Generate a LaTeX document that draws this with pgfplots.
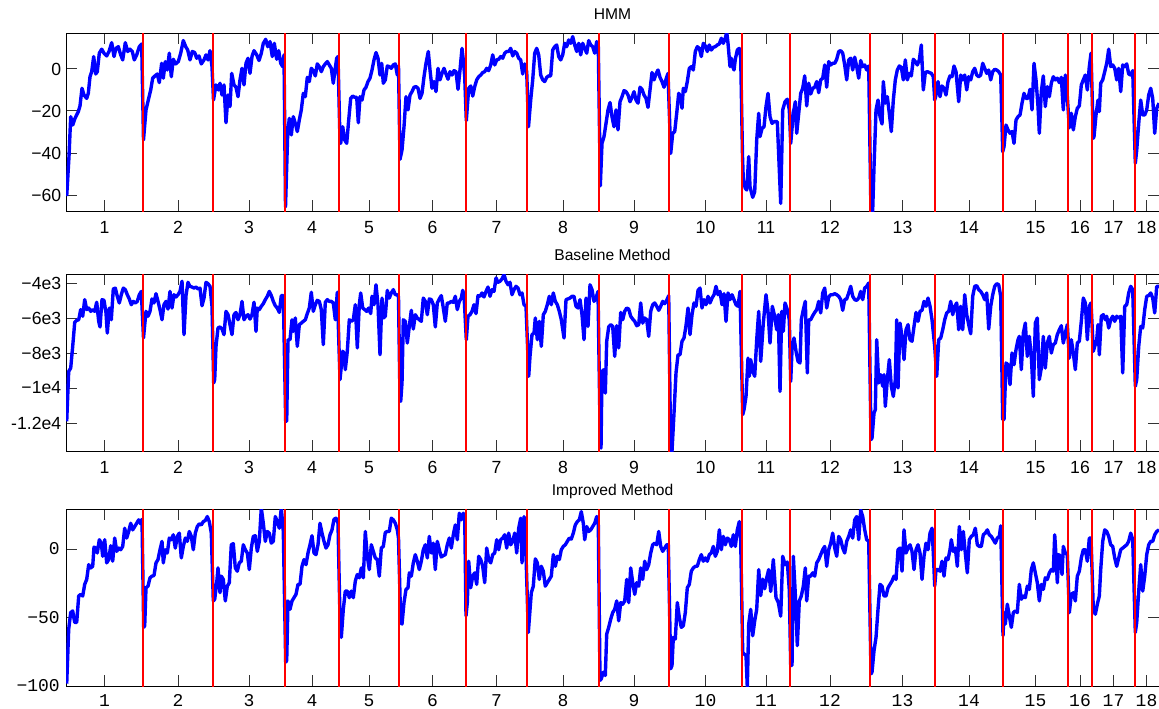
\documentclass[border=0pt]{standalone}
\usepackage{fontspec}
\setmainfont{Liberation Sans}
\setmonofont{Liberation Mono}
\usepackage{pgfplots}
\usepackage{pgfplotstable}
\pgfplotsset{compat=1.18}
\definecolor{seqred}{RGB}{255,0,0}
\definecolor{traceblue}{RGB}{0,0,255}

% log-likelihood traces, one row per frame (x = frame position, y = score)
\pgfplotstableread[row sep=\\]{
x y\\
0.7 -60.5\\ 3 -41.7\\ 4.7 -22.7\\ 6.7 -26.7\\ 9 -23.5\\ 12.3 -20.3\\ 14 -17.6\\ 16 -9.2\\ 18 -12.4\\ 20.7 -14\\
22.3 -11.6\\ 24 -3.7\\ 25.7 -1.3\\ 27.7 5.9\\ 29.7 -2.4\\ 31.3 -1.3\\ 33.3 7.5\\ 35.7 9.4\\ 38 7.5\\ 40.7 6.2\\
43 8.3\\ 45.7 12.5\\ 48 5.9\\ 50 9.8\\ 52.3 10.6\\ 54.7 6.7\\ 56.7 4.3\\ 59.3 12.5\\ 61.7 8.3\\ 64 9.4\\
66.3 8.3\\ 68.3 4.3\\ 70.7 6.7\\ 73.3 10.6\\ 75.7 11.9\\ 77.5 -33.8\\ 80 -19.5\\ 82.3 -14.8\\ 84.7 -10\\ 86.7 -4.4\\
89 -3.3\\ 91.3 -2.4\\ 93.3 -6.5\\ 95.7 2.7\\ 97.3 -4.4\\ 99.3 3.5\\ 101.3 -0.5\\ 103.3 7.5\\ 105.3 -3.7\\ 107.3 4.6\\
109.7 2.4\\ 112.3 3.5\\ 114.7 7.5\\ 117.3 13.5\\ 119.7 10.6\\ 121.7 9\\ 124 4.3\\ 126.3 8.3\\ 128.7 7.8\\ 130.7 5.1\\
133 6.2\\ 135.3 2.4\\ 138 4.3\\ 140 6.7\\ 142 4.3\\ 144 8.7\\ 146 1.1\\ 147.5 -14.8\\ 150 -7.6\\ 152.3 -10\\
154 -6.8\\ 156 -12.4\\ 158 -7.6\\ 160 -25.6\\ 162 -12.4\\ 164 -17.9\\ 165.7 -2.1\\ 168 -7.6\\ 170 -8.7\\ 172 -13.2\\
174 -5.2\\ 176 0.3\\ 178 -7.6\\ 180 2.7\\ 182 5.1\\ 184 -2.1\\ 186 5.9\\ 188 8.7\\ 190.7 6.7\\ 193 4\\
195.3 7.5\\ 197.3 12.2\\ 199.7 14.1\\ 201.7 10.6\\ 204 13\\ 206.3 5.9\\ 208.3 12.2\\ 210.7 4.6\\ 212.7 8.7\\ 214.7 2.7\\
216.7 1.1\\ 218 6.7\\ 219.5 -65.6\\ 221.7 -30.6\\ 223.3 -23.5\\ 225.3 -31.4\\ 227.3 -22.7\\ 229.3 -25.9\\ 231.3 -29.8\\ 233.3 -24.3\\
235.3 -19.5\\ 237.3 -11.6\\ 239.3 -13.2\\ 241.3 -4\\ 243.3 -6\\ 245.3 0.3\\ 247.3 -0.8\\ 249.3 -3.3\\ 251.3 2.4\\ 253.3 1.1\\
255.3 -1.3\\ 257.3 1.1\\ 259.3 2.4\\ 261.3 3.5\\ 263.3 1.9\\ 265.3 0.3\\ 267.3 -6.8\\ 269 -0.5\\ 270.7 5.1\\ 272 5.9\\
274 -34.6\\ 274.7 -35.4\\ 276.7 -27.5\\ 278.7 -33.8\\ 280.7 -35.4\\ 282.7 -24.3\\ 284.7 -14\\ 286.7 -12.9\\ 288.7 -13.5\\ 290.7 -13.5\\
292.3 -25.6\\ 294 -13.2\\ 296 -14.8\\ 298 -10\\ 300 -8.7\\ 302 -6\\ 304 -4.4\\ 306 -0.5\\ 308 4.3\\ 310 7.8\\
312 5.1\\ 314 -2.9\\ 315.7 2.7\\ 317.3 -6.8\\ 319.3 -5.2\\ 321.3 1.4\\ 323.3 1.1\\ 325.3 0.3\\ 327.3 1.9\\ 329.3 2.4\\
331.3 -2.9\\ 332.5 1.5\\ 334 -43\\ 336 -38.6\\ 338 -27.5\\ 340 -13.2\\ 342 -19.5\\ 344 -12.4\\ 346 -10.8\\ 348 -8.7\\
350 -8.4\\ 352 -9.2\\ 354 -14\\ 356 -11.6\\ 358 -3.7\\ 360 2.7\\ 362.3 8.3\\ 364 -0.5\\ 366 -9.2\\ 368 -6\\
370 -10.8\\ 372 0.3\\ 374 -5.2\\ 376 -2.1\\ 378 0.3\\ 380 -2.4\\ 382 -4.9\\ 384 -1.3\\ 386 -2.9\\ 388 -0.8\\
390 -1.3\\ 392 -9.7\\ 394 -0.5\\ 396 9.8\\ 397.3 4.3\\ 398.7 -3.7\\ 400.3 -24.6\\ 402.7 -9.2\\ 404.7 -8.1\\ 406.7 -12.9\\
408.7 -8.4\\ 410.7 -5.2\\ 412.7 -3.7\\ 414.7 -2.9\\ 416.7 -1.7\\ 418.7 -1.3\\ 420.7 0.3\\ 422.7 -0.8\\ 424.7 1.9\\ 426.7 6.7\\
428.7 1.9\\ 430.7 4.3\\ 432.7 4.6\\ 434.7 5.9\\ 436.7 5.1\\ 438.7 7.5\\ 440.7 8.3\\ 442.7 8.3\\ 444.7 9.8\\ 446.7 6.2\\
448.7 8.3\\ 450.7 7.5\\ 452.7 5.1\\ 454.7 4.3\\ 456.7 -2.4\\ 458.7 2.4\\ 460.7 -1.3\\ 462.5 -27.5\\ 464.7 -14.8\\ 466.7 -5.2\\
468.7 7.5\\ 470.7 9.8\\ 472.7 6.7\\ 474.7 -2.9\\ 476.7 -5.2\\ 478.7 -6\\ 480.7 -4\\ 482.7 -3.3\\ 484.7 -3.3\\ 486.7 9\\
488.7 10.6\\ 490.7 11.4\\ 492.7 5.9\\ 494.7 4.3\\ 496.7 6.7\\ 498.7 12.2\\ 500.7 10.6\\ 502.7 13.8\\ 504.7 12.2\\ 506.7 15.4\\
508.7 11.4\\ 510.7 8.3\\ 512.7 12.2\\ 514.7 6.7\\ 516.7 12.2\\ 518.7 9.8\\ 520.7 7.5\\ 522.7 13.5\\ 524.7 11.4\\ 526.7 10.6\\
528.7 7.5\\ 530.7 13\\ 532.3 10.6\\ 534.3 -55.6\\ 536 -35.4\\ 538 -32.2\\ 540 -25.9\\ 542 -19.5\\ 544 -16\\ 546 -22.7\\
548 -27.5\\ 550 -19.5\\ 552 -29\\ 554 -15.6\\ 556 -13.2\\ 558 -10.3\\ 560 -10.8\\ 562 -12.4\\ 564 -15.6\\ 566 -13.5\\
568 -10.8\\ 570 -14.8\\ 572 -16.3\\ 574 -8.7\\ 576 -9.7\\ 578 -12.4\\ 580 -14\\ 582 -18.3\\ 584 -10\\ 586 -1.7\\
588 -5.2\\ 590 -2.4\\ 592 -0.5\\ 594 -4\\ 596 -6\\ 598 -8.7\\ 600 -4.9\\ 602 -2.1\\ 604.7 -40.2\\ 606.7 -30.6\\
608.7 -29.8\\ 610.7 -21.1\\ 612.7 -11.6\\ 614.7 -13.2\\ 616 -18.7\\ 617.3 -9.2\\ 619.3 -10.8\\ 621.3 -6\\ 623.3 0.3\\ 625.3 1.1\\
627.3 -0.5\\ 629.3 8.3\\ 631.3 10.6\\ 633.3 9.8\\ 635.3 5.9\\ 637.3 12.2\\ 639.3 11\\ 641.3 8.3\\ 643.3 11.4\\ 645.3 9\\
647.3 10.3\\ 649.3 10.6\\ 651.3 11.4\\ 653.3 11.9\\ 655.3 14.6\\ 657.3 12.2\\ 659.3 14.6\\ 660.7 17.5\\ 662 12.2\\ 664 1.1\\
665.3 5.1\\ 666.7 1.1\\ 668 -0.5\\ 669.3 4.6\\ 671.3 9\\ 673.3 9.8\\ 674.7 5.1\\ 676.5 -41.7\\ 677.3 -52.9\\ 679.3 -56.8\\
680.7 -57.6\\ 682.7 -41.7\\ 684 -56\\ 686.7 -61.1\\ 688.7 -58.4\\ 690.7 -33.8\\ 692.7 -21.1\\ 694 -32.2\\ 696 -28.3\\ 698 -27.5\\
700 -17.9\\ 702 -11.6\\ 704 -22.7\\ 706 -25.9\\ 708 -25.1\\ 711.3 -25.1\\ 714.7 -64\\ 716.7 -19.5\\ 719 -15.6\\ 721.3 -14.4\\
723.3 -19.5\\ 724.7 -35.4\\ 727.3 -21.1\\ 729.3 -15.6\\ 730.7 -30.6\\ 732.7 -21.1\\ 734.7 -11.6\\ 736.7 -9.2\\ 738.7 -3.3\\ 740.7 -17.6\\
742.7 -6.8\\ 744.7 -11.9\\ 746.7 -9.2\\ 748.7 -8.7\\ 750.7 -6\\ 752.7 -11.3\\ 754.7 -5.2\\ 756.7 -4.4\\ 758.7 1.9\\ 760.7 -8.7\\
762.7 3.5\\ 764.7 1.9\\ 766.7 2.7\\ 768.7 2.7\\ 770.7 4.6\\ 772.7 8.3\\ 774.7 8.7\\ 776.7 7.5\\ 778.7 1.9\\ 780.7 -5.2\\
782.7 4.3\\ 784.7 5.1\\ 786.7 -0.5\\ 788.7 5.6\\ 790.7 1.1\\ 792.7 -4.4\\ 794.7 4\\ 796.7 1.1\\ 798.7 1.9\\ 800.7 -0.5\\
802.7 1.4\\ 805 -70\\ 806.5 -70\\ 808 -46.5\\ 810 -19.5\\ 812 -14.8\\ 814 -22.7\\ 816 -26.2\\ 817.3 -6\\ 819.3 -16.3\\
821.3 -13.2\\ 823.3 -21.1\\ 825.3 -29.8\\ 827.3 -14.8\\ 829.3 -5.2\\ 831.3 -0.5\\ 833.3 1.4\\ 835.3 0.8\\ 837.3 -5.2\\ 839.3 4.3\\
841.3 -5.2\\ 843.3 -2.1\\ 845.3 -3.3\\ 847.3 4.6\\ 849.3 3.5\\ 851.3 1.9\\ 853.3 4.3\\ 855.3 11.4\\ 857.3 -10\\ 859.3 -1.7\\
861.3 -1.3\\ 863.3 -1.7\\ 865.3 -2.1\\ 867.3 -3.7\\ 868.7 -14.8\\ 870 -12.4\\ 872 -6\\ 874 -13.2\\ 876 -8.1\\ 878 -9.2\\
880 -12.4\\ 882 -6\\ 884 -3.3\\ 886 -3.7\\ 888 1.4\\ 890 -1.3\\ 892.7 -15.6\\ 894.7 -2.9\\ 896.7 -5.2\\ 898.7 -2.9\\
900.7 -10\\ 902.7 -3.7\\ 904.7 -5.2\\ 906.7 -1.3\\ 908.7 0.3\\ 910.7 -2.9\\ 912.7 -3.7\\ 914.7 -2.9\\ 916.7 2.7\\ 918.7 0.3\\
920.7 -2.1\\ 922.7 -0.5\\ 924.7 -5.2\\ 926.7 -1.3\\ 928.7 -0.2\\ 930.7 -0.5\\ 932.7 -1.3\\ 934.7 -2.9\\ 936.7 -39.4\\ 938 -37\\
940 -26.7\\ 942 -29\\ 944 -30.6\\ 946 -29.8\\ 948 -35.4\\ 950 -24.3\\ 952 -22.7\\ 954 -21.9\\ 956 -16.3\\ 958 -11.6\\
960 -14\\ 962 -14\\ 964 -9.7\\ 966 -19.5\\ 968 2.7\\ 970 -5.2\\ 972 -17.9\\ 973.3 -30.6\\ 975.3 -10.8\\ 977.3 -3.3\\
979.3 -17.9\\ 981.3 -8.4\\ 983.3 -13.2\\ 985.3 -6.8\\ 987.3 -3.7\\ 989.3 -5.2\\ 991.3 -4.4\\ 993.3 -6.5\\ 995.3 -4\\ 997.3 -19.5\\
999.3 -2.9\\ 1001.3 -13.2\\ 1003.3 -28\\ 1005.3 -21.1\\ 1007.3 -29\\ 1009.3 -22.7\\ 1011.3 -18.7\\ 1013.3 -17.6\\ 1015.3 -7.6\\ 1017.3 -5.2\\
1019.3 -2.9\\ 1021.3 -10\\ 1023.3 1.1\\ 1025 7.5\\ 1027.3 -33\\ 1028 -32.2\\ 1030 -21.9\\ 1032 -14.8\\ 1033.3 -20.3\\ 1034.7 -6.8\\
1036.7 -5.2\\ 1038.7 -1.3\\ 1040.7 2.7\\ 1042.7 9.4\\ 1044.7 1.1\\ 1046.7 1.9\\ 1048.7 0.3\\ 1050.7 -5.2\\ 1052.7 0.3\\ 1054.7 -10.8\\
1056.7 1.9\\ 1058.7 1.1\\ 1060.7 2.4\\ 1062.7 -2.4\\ 1064.7 -2.9\\ 1066.7 -0.8\\ 1069.3 -44.9\\ 1070.7 -38.6\\ 1072.7 -25.9\\ 1074.7 -14.8\\
1076.7 -21.9\\ 1078.7 -21.9\\ 1080.7 -19.5\\ 1082.7 -12.4\\ 1084.7 -9.2\\ 1086.7 -14\\ 1088.7 -30.6\\ 1090.7 -18.7\\ 1093 -16.3\\
}\hmmdata

\pgfplotstableread[row sep=\\]{
x y\\
0.7 -11900\\ 2.7 -9050\\ 4.7 -8860\\ 6.7 -7620\\ 8.7 -6250\\ 10.7 -6130\\ 12.7 -6100\\ 14.7 -5520\\ 16.7 -5900\\ 18.7 -4950\\
20.7 -5520\\ 22.7 -5430\\ 24.7 -5620\\ 26.7 -5520\\ 28.7 -5620\\ 30.7 -5100\\ 32.7 -6190\\ 34 -6510\\ 36 -4950\\ 38 -4990\\
40 -5710\\ 41.3 -6860\\ 43.3 -5430\\ 45.3 -6100\\ 47.3 -4340\\ 49.3 -4290\\ 51.3 -4760\\ 53.3 -5140\\ 55.3 -4670\\ 57.3 -4290\\
59.3 -4380\\ 61.3 -4670\\ 63.3 -4910\\ 65.3 -5240\\ 67.3 -5050\\ 69.3 -5140\\ 71.3 -5050\\ 73.3 -4670\\ 75.3 -4480\\ 77.5 -7140\\
80 -5620\\ 82 -5900\\ 84 -5620\\ 86 -4910\\ 88 -5140\\ 90 -4610\\ 92 -5050\\ 94 -5520\\ 96 -6100\\ 98 -5240\\
100 -5050\\ 102 -5490\\ 104 -4480\\ 106 -5430\\ 108 -4670\\ 110 -4800\\ 112 -4670\\ 114 -4480\\ 116 -3900\\ 118 -6950\\
120 -4720\\ 122 -3960\\ 124 -4190\\ 126 -4230\\ 128 -4290\\ 130 -4230\\ 132 -4340\\ 134 -4290\\ 136 -5300\\ 138 -4860\\
140 -3960\\ 142 -4040\\ 144 -4190\\ 146 -5330\\ 147.7 -9710\\ 148.7 -9520\\ 150 -7620\\ 152 -6570\\ 154 -6510\\ 156 -6630\\
158 -6950\\ 160 -5620\\ 162 -5810\\ 164 -6380\\ 166 -6950\\ 168 -5810\\ 170 -5680\\ 172 -6100\\ 174 -5810\\ 176 -5050\\
178 -6100\\ 180 -5900\\ 182 -5810\\ 184 -6060\\ 186 -5810\\ 188 -5100\\ 190 -6760\\ 191.3 -5430\\ 193.3 -5520\\ 195.3 -5330\\
197.3 -5180\\ 199.3 -4950\\ 201.3 -4760\\ 203.3 -4480\\ 205.3 -4720\\ 207.3 -5050\\ 209.3 -5300\\ 211.3 -5430\\ 213.3 -5680\\ 215.3 -4720\\
217.3 -4720\\ 219.7 -11900\\ 220.7 -11900\\ 222 -7240\\ 224 -7240\\ 226 -6100\\ 227.3 -6760\\ 229.3 -6000\\ 231.3 -7620\\ 233.3 -6380\\
235.3 -6290\\ 237.3 -6190\\ 239.3 -6100\\ 241.3 -5750\\ 243.3 -5430\\ 245.3 -4530\\ 247.3 -5620\\ 249.3 -5240\\ 251.3 -4990\\ 253.3 -5050\\
255.3 -5520\\ 257.3 -7520\\ 259.3 -5100\\ 261.3 -4950\\ 263.3 -5050\\ 265.3 -5050\\ 267.3 -5140\\ 269.3 -6100\\ 271.3 -4530\\ 274 -9520\\
275.3 -8760\\ 276.7 -7900\\ 278 -8000\\ 279.3 -8950\\ 281.3 -7900\\ 283.3 -6100\\ 285.3 -6190\\ 287.3 -6100\\ 289.3 -5240\\ 291.3 -7710\\
293.3 -5240\\ 294.7 -4570\\ 296.7 -5430\\ 298.7 -5520\\ 300.7 -5620\\ 302.7 -5430\\ 304.7 -5750\\ 306 -4760\\ 308 -5240\\ 310 -4100\\
312 -5240\\ 314 -8100\\ 316 -4860\\ 317.3 -6000\\ 319.3 -5900\\ 321.3 -4420\\ 323.3 -4860\\ 325.3 -4570\\ 327.3 -4380\\ 329.3 -4670\\
331.3 -4670\\ 332.5 -4800\\ 334 -10670\\ 334.7 -10760\\ 336 -9710\\ 337.3 -6100\\ 339.3 -6190\\ 341.3 -7430\\ 343.3 -6480\\ 345.3 -5560\\
347.3 -6630\\ 349.3 -5810\\ 351.3 -6000\\ 353.3 -6100\\ 355.3 -6190\\ 357.3 -4860\\ 359.3 -5050\\ 361.3 -5810\\ 363.3 -4910\\ 365.3 -4950\\
367.3 -5240\\ 369.3 -6510\\ 371.3 -5140\\ 373.3 -4910\\ 375.3 -4720\\ 377.3 -5430\\ 379.3 -6190\\ 381.3 -5140\\ 383.3 -5140\\ 385.3 -5050\\
387.3 -5100\\ 389.3 -4760\\ 391.3 -5520\\ 393.3 -5050\\ 395.3 -4860\\ 396.7 -4420\\ 398 -4670\\ 400.3 -7240\\ 402 -5900\\ 404 -5810\\
406 -5620\\ 408 -5240\\ 410 -5750\\ 412 -4720\\ 414 -4760\\ 416 -4570\\ 418 -4800\\ 420 -4480\\ 422 -4230\\ 424 -4760\\
426 -4380\\ 428 -4480\\ 430 -3710\\ 432 -3960\\ 434 -3900\\ 436 -3770\\ 438 -3520\\ 440 -3900\\ 442 -4100\\ 444 -3960\\
446 -4670\\ 448 -4380\\ 450 -4190\\ 452 -4290\\ 454 -4670\\ 456 -4570\\ 458 -5240\\ 460 -5330\\ 462.7 -9330\\ 464 -8190\\
466 -6950\\ 468 -6860\\ 469.3 -6000\\ 471.3 -7240\\ 473.3 -6190\\ 475.3 -7620\\ 477.3 -5810\\ 479.3 -5620\\ 481.3 -5240\\ 483.3 -4760\\
485.3 -5240\\ 487.3 -4570\\ 489.3 -5050\\ 491.3 -5240\\ 493.3 -5620\\ 495.3 -6100\\ 498 -7140\\ 500 -4950\\ 502 -4910\\ 504 -4860\\
506 -4760\\ 508 -4760\\ 510 -5330\\ 512 -5430\\ 514 -4950\\ 516 -5810\\ 518 -7240\\ 520 -4860\\ 522 -6480\\ 524 -4100\\
526 -4380\\ 528 -5050\\ 530 -4860\\ 532 -4480\\ 534.3 -13330\\ 535 -13430\\ 536 -9050\\ 538 -8950\\ 539.3 -10290\\ 540.7 -7330\\
542.7 -6510\\ 544.7 -6380\\ 546.7 -6480\\ 548.7 -8190\\ 550.7 -6440\\ 552.7 -7710\\ 554.7 -5680\\ 556.7 -6100\\ 558.7 -5620\\ 560.7 -5430\\
562.7 -5490\\ 564.7 -5900\\ 566.7 -6060\\ 568.7 -6190\\ 570.7 -6440\\ 572.7 -6380\\ 574.7 -5140\\ 576.7 -6290\\ 578.7 -6000\\ 580.7 -6100\\
582.7 -7050\\ 584.7 -5620\\ 586.7 -5240\\ 588.7 -5140\\ 590.7 -5330\\ 592.7 -5560\\ 594.7 -5330\\ 596.7 -5050\\ 598.7 -5180\\ 600.7 -4990\\
602.7 -4720\\ 604.7 -13800\\ 606 -13600\\ 608 -11430\\ 610 -9140\\ 612 -8100\\ 614 -8100\\ 616 -7330\\ 618 -7140\\ 620 -6440\\
622 -5430\\ 624 -6950\\ 626 -5810\\ 628 -5140\\ 630 -5330\\ 632 -4420\\ 634 -4290\\ 636 -5430\\ 638 -4950\\ 640 -5240\\
642 -4760\\ 644 -5140\\ 646 -4860\\ 648 -4670\\ 650 -4190\\ 652 -4670\\ 654 -4480\\ 656 -5240\\ 658 -4610\\ 660 -6190\\
662 -4570\\ 664 -4950\\ 666 -4670\\ 668 -4950\\ 670 -5240\\ 672 -5330\\ 674 -4480\\ 676.7 -11520\\ 678 -11240\\ 680 -10480\\
682 -8290\\ 683.3 -9330\\ 684.7 -8380\\ 686.7 -9050\\ 688.7 -9330\\ 690.7 -7240\\ 692.7 -5620\\ 694.7 -8480\\ 697.3 -6290\\ 700 -4670\\
702 -5620\\ 704 -7430\\ 706.3 -5330\\ 708.3 -5810\\ 710.7 -6670\\ 712.3 -5810\\ 714 -10200\\ 715.7 -5620\\ 717.3 -6760\\ 719 -5140\\
721.3 -5520\\ 723.3 -6100\\ 724.7 -9620\\ 726 -7810\\ 728 -7140\\ 730 -7900\\ 732 -8480\\ 734 -8570\\ 735.3 -6100\\ 737.3 -5520\\
739.3 -5050\\ 741.3 -9140\\ 742.7 -6100\\ 744.7 -6100\\ 746.7 -5870\\ 748.7 -5680\\ 750.7 -5520\\ 752.7 -5050\\ 754.7 -5710\\ 756.7 -4570\\
758.7 -4290\\ 760.7 -5430\\ 762.7 -4800\\ 764.7 -4670\\ 766.7 -4670\\ 768.7 -4610\\ 770.7 -4670\\ 772.7 -4760\\ 774.7 -4950\\ 776.7 -5560\\
778.7 -4950\\ 780.7 -4910\\ 782.7 -4570\\ 784.7 -4190\\ 786.7 -4760\\ 788.7 -4950\\ 790.7 -4990\\ 792.7 -4860\\ 794.7 -4480\\ 796.7 -4950\\
798.7 -4290\\ 800.7 -4190\\ 802.7 -4000\\ 805 -12950\\ 806 -12860\\ 808 -11430\\ 809.3 -11240\\ 810.7 -7240\\ 812.7 -9710\\ 814.7 -9240\\
816.7 -9900\\ 818 -9240\\ 819.3 -11050\\ 821.3 -9520\\ 823.3 -8380\\ 825.3 -9900\\ 827.3 -10480\\ 829.3 -9520\\ 830.7 -6100\\ 832 -10000\\
834 -6290\\ 836 -7050\\ 838 -8380\\ 840 -6670\\ 842 -6380\\ 844 -7240\\ 846 -7330\\ 848 -6480\\ 850 -5680\\ 852 -6190\\
854 -5620\\ 856 -5560\\ 858 -5050\\ 860 -5330\\ 862 -4860\\ 864 -5330\\ 866 -6100\\ 868.7 -7620\\ 870.7 -9330\\ 872.7 -7240\\
874.7 -7140\\ 876.7 -6670\\ 878.7 -6100\\ 880.7 -5710\\ 882.7 -5620\\ 884.7 -5050\\ 886.7 -5810\\ 888.7 -5330\\ 890.7 -5140\\ 892.7 -6670\\
894.7 -5330\\ 896.7 -6670\\ 898.7 -4670\\ 900.7 -5810\\ 902.7 -6380\\ 904.7 -6900\\ 906.7 -4760\\ 908.7 -4190\\ 910.7 -4150\\ 912.7 -4380\\
914.7 -4480\\ 916.7 -4670\\ 918.7 -4950\\ 920.7 -4570\\ 922.7 -6630\\ 924.7 -5330\\ 926.7 -4670\\ 928.7 -4190\\ 930.7 -4040\\ 932.7 -4100\\
934.7 -4760\\ 936.7 -11810\\ 938 -11810\\ 940 -8570\\ 942 -8670\\ 944 -9810\\ 946 -8000\\ 948 -8670\\ 950 -7810\\ 952 -7240\\
953.3 -7050\\ 955.3 -8950\\ 957.3 -6860\\ 959.3 -6290\\ 961.3 -8190\\ 963.3 -7050\\ 965.3 -8190\\ 967.3 -10480\\ 969.3 -6290\\ 971.3 -6000\\
973.3 -9520\\ 975.3 -8860\\ 977.3 -7050\\ 979.3 -8860\\ 981.3 -7430\\ 983.3 -7050\\ 985.3 -8000\\ 987.3 -7520\\ 989.3 -7430\\ 991.3 -6950\\
993.3 -6670\\ 995.3 -6440\\ 997.3 -7430\\ 999.3 -6860\\ 1001.3 -6380\\ 1003.3 -8290\\ 1005.3 -7240\\ 1007.3 -8000\\ 1009.3 -8950\\ 1011.3 -7430\\
1013.3 -7330\\ 1015.3 -6190\\ 1017.3 -4860\\ 1019.3 -5140\\ 1021.3 -7240\\ 1023.3 -5330\\ 1025 -5140\\ 1027.3 -7900\\ 1028.7 -7620\\ 1030.7 -7240\\
1032 -6380\\ 1033.3 -8100\\ 1035.3 -5900\\ 1037.3 -5810\\ 1039.3 -6100\\ 1040.7 -5900\\ 1042.7 -6570\\ 1044.7 -6100\\ 1046.7 -5900\\ 1048.7 -6190\\
1050.7 -5900\\ 1052.7 -6000\\ 1054.7 -5900\\ 1056.7 -9140\\ 1058.7 -5330\\ 1060.7 -5240\\ 1062.7 -4570\\ 1064.7 -4190\\ 1066.7 -4380\\ 1069.3 -9900\\
1070.7 -9520\\ 1072.7 -7620\\ 1074.7 -6480\\ 1076.7 -6570\\ 1078.7 -5520\\ 1080.7 -4760\\ 1082.7 -4720\\ 1084.7 -4570\\ 1086.7 -4860\\ 1088.7 -5710\\
1090.7 -4190\\ 1093 -4190\\
}\basedata

\pgfplotstableread[row sep=\\]{
x y\\
0.7 -98.3\\ 2.7 -58.5\\ 4.7 -46.4\\ 6.7 -45.2\\ 8.7 -53.6\\ 10.7 -53.6\\ 12.7 -34.3\\ 14.7 -33.1\\ 16.7 -34.3\\ 18.7 -25.8\\
20.7 -22.2\\ 22.7 -11.4\\ 24.7 -13.8\\ 26.7 -12.6\\ 28 1.4\\ 30 0.7\\ 31.3 -2.9\\ 33.3 6.8\\ 35.3 4.3\\ 36.7 -5.3\\
38.7 6.8\\ 40.7 -10.1\\ 42.7 -7.7\\ 44.7 2.4\\ 46.7 -8.9\\ 48.7 8\\ 50.7 -1.7\\ 52.7 0.7\\ 54.7 -0.5\\ 56.7 1.9\\
58.7 15.2\\ 60.7 8\\ 62.7 12.8\\ 64.7 18.8\\ 66.7 14\\ 68.7 16.4\\ 70.7 18.8\\ 72.7 21.3\\ 74.7 18.4\\ 76 21.7\\
77.7 -57.2\\ 78.7 -56\\ 80 -28.3\\ 82 -27.1\\ 84 -21\\ 86 -19.8\\ 88 -19.3\\ 90 -10.1\\ 92 -7.7\\ 94 -0.5\\
96 5.6\\ 97.3 -10.1\\ 99.3 -0.5\\ 101.3 -2.9\\ 103.3 8\\ 105.3 6.8\\ 107.3 10.4\\ 109.3 0.7\\ 111.3 9.2\\ 113.3 11.6\\
115.3 -6.5\\ 117.3 1.9\\ 119.3 8\\ 121.3 5.6\\ 123.3 12.8\\ 125.3 9.2\\ 127.3 -0.5\\ 129.3 11.6\\ 131.3 16.4\\ 133.3 18.4\\
135.3 17.6\\ 137.3 20\\ 139.3 20.8\\ 141.3 23.7\\ 143.3 20\\ 145.3 11.6\\ 147.3 -37.9\\ 148.7 -36.7\\ 150.7 -24.6\\ 152 -13.8\\
154 -31.9\\ 155.3 -19.8\\ 157.3 -22.2\\ 159.3 -37.9\\ 161.3 -27.1\\ 163.3 -24.6\\ 165.3 3.1\\ 167.3 3.9\\ 169.3 -13.8\\ 171.3 -16.2\\
173.3 -10.1\\ 175.3 -8.9\\ 177.3 3.1\\ 179.3 -0.5\\ 181.3 -2.9\\ 183.3 -15\\ 185.3 0.7\\ 187.3 9.2\\ 189.3 9.7\\ 191.3 -1.7\\
193.3 5.6\\ 195.3 30\\ 197.3 18.8\\ 199.3 5.6\\ 201.3 12.8\\ 203.3 11.6\\ 205.3 4.3\\ 207.3 5.6\\ 209.3 23.7\\ 211.3 20\\
213.3 15.2\\ 215.3 30\\ 217.3 12.8\\ 219.7 -82.6\\ 220.7 -81.4\\ 222 -37.9\\ 224 -44\\ 226 -37.9\\ 228 -35.5\\ 230 -33.1\\
232 -25.8\\ 234 -25.8\\ 236 -12.6\\ 238 -7.7\\ 240 -11.4\\ 242 -2.9\\ 244 3.1\\ 246 9.7\\ 248 -2.9\\ 250 -4.1\\
252 3.1\\ 254 18.8\\ 256 11.6\\ 258 5.6\\ 260 0.7\\ 262 3.1\\ 264 10.4\\ 266 14\\ 268 21.7\\ 270 22.5\\
272 18.8\\ 274 -51.2\\ 275.3 -64.5\\ 277.3 -44\\ 279.3 -30.7\\ 281.3 -30.7\\ 283.3 -35.5\\ 285.3 -30.7\\ 287.3 -35.5\\ 289.3 -23.4\\
291.3 -18.6\\ 293.3 -21\\ 295.3 -13.8\\ 297.3 -21\\ 299.3 12.8\\ 301.3 -5.3\\ 303.3 -15\\ 305.3 3.1\\ 307.3 -1.7\\ 309.3 -6.5\\
311.3 -7.7\\ 313.3 -19.8\\ 315.3 0.7\\ 317.3 1.9\\ 319.3 12.1\\ 321.3 12.8\\ 323.3 12.8\\ 325.3 22.5\\ 327.3 21.3\\ 329.3 18.8\\
331.3 14\\ 332.5 8\\ 334.7 -53.6\\ 336 -54.8\\ 338 -39.1\\ 340 -29.5\\ 342 -28.3\\ 343.3 -17.4\\ 345.3 -19.8\\ 347.3 -10.1\\
349.3 -4.1\\ 351.3 -8.9\\ 353.3 -15\\ 355.3 -8.9\\ 357.3 -0.5\\ 359.3 3.1\\ 361.3 -6.5\\ 363.3 9.2\\ 365.3 -2.9\\ 367.3 4.3\\
369.3 -15\\ 371.3 5.6\\ 373.3 -0.5\\ 375.3 -5.8\\ 377.3 -4.8\\ 379.3 -4.1\\ 381.3 3.1\\ 383.3 8\\ 385.3 0.7\\ 387.3 10.4\\
389.3 17.6\\ 391.3 6.8\\ 393.3 26.1\\ 395.3 21.3\\ 397.3 26.1\\ 398.7 23.7\\ 400 -48.8\\ 401.3 -39.1\\ 402.7 -8.9\\ 404.7 -28.3\\
406.7 -19.8\\ 408.7 -17.4\\ 410.7 -25.8\\ 412.7 -5.3\\ 414.7 -7.7\\ 416.7 -12.6\\ 418.7 -24.6\\ 420.7 0.7\\ 422.7 -7.7\\ 424.7 -10.1\\
426.7 -4.1\\ 428.7 -2.9\\ 430.7 6.8\\ 432.7 -0.5\\ 434.7 6.8\\ 436.7 8\\ 438.7 10.4\\ 440.7 0.7\\ 442.7 11.6\\ 444.7 3.1\\
446.7 5.6\\ 448.7 11.6\\ 450.7 -2.9\\ 452.7 15.2\\ 454.7 22.5\\ 456 -10.1\\ 458 23.7\\ 459.3 12.8\\ 462.3 -60.9\\ 463.3 -51.2\\
465.3 -31.9\\ 467.3 -27.1\\ 469.3 -7.2\\ 471.3 -10.1\\ 473.3 -22.2\\ 475.3 -12.6\\ 477.3 -16.2\\ 479.3 -27.1\\ 481.3 -24.6\\ 483.3 -22.2\\
485.3 -19.8\\ 487.3 -4.1\\ 489.3 -12.6\\ 491.3 -5.3\\ 493.3 -7.7\\ 495.3 -0.5\\ 497.3 1.9\\ 499.3 3.1\\ 501.3 5.6\\ 503.3 8\\
505.3 7.2\\ 507.3 11.6\\ 509.3 17.6\\ 511.3 20\\ 513.3 21.3\\ 515.3 27.3\\ 517.3 18.8\\ 518.7 6.8\\ 520.7 16.4\\ 522.7 12.8\\
524.7 14\\ 526.7 16.4\\ 528.7 18.8\\ 530.7 23.7\\ 532.3 17.6\\ 534 -95.9\\ 535.3 -94.7\\ 537.3 -89.9\\ 539.3 -92.3\\ 540.7 -62.1\\
542.7 -57.2\\ 544.7 -51.2\\ 546.7 -46.4\\ 548.7 -44\\ 550.7 -37.9\\ 552.7 -52.4\\ 554.7 -39.1\\ 556.7 -40.3\\ 558.7 -37.9\\ 560.7 -22.2\\
562.7 -39.1\\ 564.7 -13.8\\ 566.7 -24.6\\ 568.7 -33.1\\ 570.7 -24.6\\ 572.7 -27.1\\ 574.7 -13.8\\ 576.7 -22.2\\ 578.7 -8.9\\ 580.7 -15\\
582.7 -11.4\\ 584.7 -2.9\\ 586.7 3.1\\ 588.7 4.3\\ 590.7 3.1\\ 592.7 12.8\\ 594.7 1.9\\ 596.7 -1.7\\ 598.7 0.7\\ 600.7 3.1\\
602.3 3.1\\ 604.7 -87.4\\ 606 -85\\ 607.3 -64.5\\ 609.3 -65.7\\ 611.3 -39.1\\ 613.3 -50\\ 615.3 -57.2\\ 617.3 -56\\ 619.3 -46.4\\
621.3 -28.3\\ 623.3 -25.8\\ 625.3 -16.2\\ 627.3 -13.8\\ 629.3 -12.6\\ 631.3 -12.6\\ 633.3 -7.7\\ 635.3 -4.1\\ 637.3 -8.9\\ 639.3 -6.5\\
641.3 -8.9\\ 643.3 -4.1\\ 645.3 -2.9\\ 647.3 1.9\\ 649.3 -5.3\\ 651.3 -1.7\\ 653.3 14\\ 655.3 -0.5\\ 657.3 9.2\\ 659.3 3.1\\
661.3 8\\ 663.3 6.8\\ 665.3 1.9\\ 667.3 10.4\\ 669.3 1.9\\ 671.3 14\\ 673.3 20\\ 674.7 5.6\\ 676.7 -75.4\\ 678 -76.6\\
680 -77.8\\ 681.3 -101\\ 682.7 -54.8\\ 684.7 -44\\ 686.7 -63.3\\ 688.7 -52.4\\ 690.7 -44\\ 692.7 -15\\ 694.7 -34\\ 696.7 -22\\
698.7 -29\\ 700.7 -21\\ 702.7 -15\\ 704.7 -31\\ 707.3 -7.7\\ 710 -35.5\\ 712.3 -39\\ 714.7 -49\\ 716.7 -5.3\\ 719 -11.4\\
721.3 -9.5\\ 723.3 -30\\ 724.7 -85\\ 726 -85\\ 727.3 -5.3\\ 729.3 -33.1\\ 731.3 -70.5\\ 733.3 -37.9\\ 735.3 -34.3\\ 737.3 -27.1\\
739.3 -13.8\\ 740.7 -37.9\\ 742.7 -19.8\\ 744.7 -19.8\\ 746.7 -17.4\\ 748.7 -19.8\\ 750.7 -10.1\\ 752.7 -7.7\\ 754.7 -4.1\\ 756.7 -0.5\\
758.7 1.9\\ 760.7 -12.6\\ 762.7 -0.5\\ 764.7 4.3\\ 766.7 11.6\\ 768.7 0.7\\ 770.7 -5.3\\ 772.7 9.2\\ 774.7 6.8\\ 776.7 0.7\\
778.7 -2.9\\ 780.7 5.6\\ 782.7 9.2\\ 784.7 14\\ 786.7 8\\ 788.7 21.3\\ 790.7 23.7\\ 792.7 6.8\\ 794.7 28.5\\ 796.7 23.7\\
798.7 14\\ 800.7 6.8\\ 802.7 5.6\\ 805 -91.1\\ 806 -89.9\\ 808 -74.2\\ 810 -64.5\\ 812 -44\\ 814 -25.8\\ 816 -27.1\\
818 -34.3\\ 820 -34.3\\ 822 -28.3\\ 824 -25.8\\ 826 -23.4\\ 828 -19.8\\ 830 -22.2\\ 832 -0.5\\ 834 0.7\\ 836 -16.2\\
838 14\\ 840 -2.9\\ 842 0.7\\ 844 3.1\\ 846 -1.7\\ 848 -15\\ 850 -0.5\\ 852 3.1\\ 854 -2.9\\ 856 -22.2\\
858 -5.3\\ 860 4.3\\ 862 -0.5\\ 864 11.6\\ 866 15.2\\ 867.3 -2.9\\ 868.7 -27.1\\ 870 -15\\ 872 -15\\ 874 -16.2\\
876 -8.9\\ 878 -19.8\\ 880 -6.5\\ 882 -7.7\\ 884 -0.5\\ 885.3 6.8\\ 887.3 -1.7\\ 889.3 0.7\\ 891.3 -12.6\\ 893.3 16.4\\
895.3 -0.5\\ 897.3 12.8\\ 899.3 -2.9\\ 901.3 -17.4\\ 903.3 6.8\\ 905.3 9.2\\ 907.3 10.4\\ 909.3 15.2\\ 911.3 3.1\\ 913.3 1.9\\
915.3 1.9\\ 917.3 10.4\\ 919.3 11.6\\ 921.3 14\\ 923.3 10.4\\ 925.3 9.2\\ 927.3 6.8\\ 929.3 4.3\\ 931.3 8\\ 933.3 9.2\\
934.7 16.9\\ 937 -63.3\\ 938 -46.4\\ 939.3 -54.8\\ 941.3 -40.3\\ 943.3 -48.8\\ 945.3 -57.2\\ 947.3 -46.4\\ 949.3 -45.2\\ 951.3 -46.4\\
953.3 -25.8\\ 955.3 -36.7\\ 957.3 -34.3\\ 959.3 -35.5\\ 961.3 -27.1\\ 963.3 -29.5\\ 965.3 -15\\ 967.3 -10.1\\ 969.3 -17.4\\ 971.3 -24.6\\
973.3 -37.9\\ 975.3 -25.8\\ 977.3 -29.5\\ 979.3 -21\\ 981.3 -22.2\\ 983.3 -17.4\\ 985.3 -15\\ 987.3 -16.2\\ 988.7 10.4\\ 990 -5.3\\
991.3 -24.6\\ 992.7 -4.1\\ 994.7 -5.3\\ 996 -18.6\\ 997.3 1.9\\ 999.3 -2.9\\ 1001.3 -4.1\\ 1003.3 -46.4\\ 1005.3 -33.1\\ 1007.3 -31.9\\
1009.3 -37.9\\ 1011.3 -19.8\\ 1013.3 -16.2\\ 1015.3 -6.5\\ 1017.3 -0.5\\ 1019.3 -0.5\\ 1021.3 -8.9\\ 1023.3 8\\ 1025 8\\ 1027.3 -44\\
1029.3 -47.6\\ 1031.3 -40.3\\ 1033.3 -34.3\\ 1034.7 -15\\ 1036.7 5.6\\ 1038.7 14\\ 1040.7 12.8\\ 1042.7 9.2\\ 1044.7 3.1\\ 1046.7 1.9\\
1048.7 -6.5\\ 1050.7 -12.6\\ 1052.7 -6.5\\ 1054.7 -0.5\\ 1056.7 0.7\\ 1058.7 1.9\\ 1060.7 3.1\\ 1062.7 5.6\\ 1064.7 11.6\\ 1066.7 6.8\\
1069.3 -60.9\\ 1070.7 -53.6\\ 1072.7 -30.7\\ 1074.7 -11.4\\ 1076.7 -30.7\\ 1078.7 -19.8\\ 1080.7 -4.1\\ 1082.7 3.1\\ 1084.7 5.6\\ 1086.7 5.6\\
1088.7 10.4\\ 1090.7 12.8\\ 1093 14\\
}\improvdata

% red separators between consecutive sequences; #1/#2 span the y range
\newcommand\segbounds[2]{%
  \addplot[seqred, line width=0.65pt, forget plot, unbounded coords=jump]
  coordinates {(77,#1) (77,#2) (77,nan) (147,#1) (147,#2) (147,nan)
    (219,#1) (219,#2) (219,nan) (273,#1) (273,#2) (273,nan)
    (333,#1) (333,#2) (333,nan) (400,#1) (400,#2) (400,nan)
    (461,#1) (461,#2) (461,nan) (533,#1) (533,#2) (533,nan)
    (603,#1) (603,#2) (603,nan) (676,#1) (676,#2) (676,nan)
    (724,#1) (724,#2) (724,nan) (804,#1) (804,#2) (804,nan)
    (869,#1) (869,#2) (869,nan) (937,#1) (937,#2) (937,nan)
    (1002,#1) (1002,#2) (1002,nan) (1026,#1) (1026,#2) (1026,nan)
    (1069,#1) (1069,#2)};}

\pgfplotsset{
  panel/.style={
    scale only axis, width=546.5pt, height=88.5pt,
    xmin=0, xmax=1093,
    xtick={38.5,112,183,246,303,366.5,430.5,497,568,639.5,700,764,836.5,903,969.5,1014,1047.5,1080.5},
    xticklabels={1,2,3,4,5,6,7,8,9,10,11,12,13,14,15,16,17,18},
    scaled y ticks=false,
    tick align=inside, xtick pos=both, ytick pos=both,
    xticklabel pos=lower, yticklabel pos=left,
    major tick length=5.3pt,
    tick style={black!80, line width=0.5pt},
    axis line style={black, line width=0.5pt},
    every axis title/.style={at={(0.5,1)}, anchor=base, yshift=6.8pt,
      font=\fontsize{7.8}{9}\selectfont},
  },
  sanslabels/.style={
    ticklabel style={font=\fontsize{8.8}{10}\selectfont},
    xticklabel style={anchor=base, yshift=-11.2pt},
    yticklabel style={anchor=east, xshift=1.1pt},
  },
  monolabels/.style={
    ticklabel style={font=\ttfamily\fontsize{9}{10}\selectfont},
    xticklabel style={anchor=base, yshift=-10pt},
    yticklabel style={anchor=east, xshift=0.4pt},
  },
  tracestyle/.style={traceblue, line width=1.7pt, line join=round},
}

\begin{document}
\begin{tikzpicture}
\path[use as bounding box] (0,0) rectangle (579.5pt,-354pt);

\begin{axis}[panel, sanslabels, at={(33pt,-16.5pt)}, anchor=north west, height=89pt,
  ymin=-67.6, ymax=17.1,
  ytick={-60,-40,-20,0},
  yticklabels={\mbox{−60},\mbox{−40},\mbox{−20},\mbox{0}},
  title={HMM}]
\addplot[tracestyle] table {\hmmdata};
\segbounds{-80}{30}
\end{axis}

\begin{axis}[panel, sanslabels, at={(33pt,-137pt)}, anchor=north west,
  ymin=-13600, ymax=-3486,
  ytick={-12000,-10000,-8000,-6000,-4000},
  yticklabels={\mbox{-1.2e4},\mbox{−1e4},\mbox{−8e3},\mbox{−6e3},\mbox{−4e3}},
  title={Baseline Method}]
\addplot[tracestyle] table {\basedata};
\segbounds{-15000}{-3000}
\end{axis}

\begin{axis}[panel, monolabels, at={(33pt,-254.5pt)}, anchor=north west,
  ymin=-100, ymax=29.2,
  ytick={-100,-50,0},
  yticklabels={\mbox{−100},\mbox{−50},\mbox{0}},
  title={Improved Method}]
\addplot[tracestyle] table {\improvdata};
\segbounds{-110}{40}
\end{axis}
\end{tikzpicture}
\end{document}
